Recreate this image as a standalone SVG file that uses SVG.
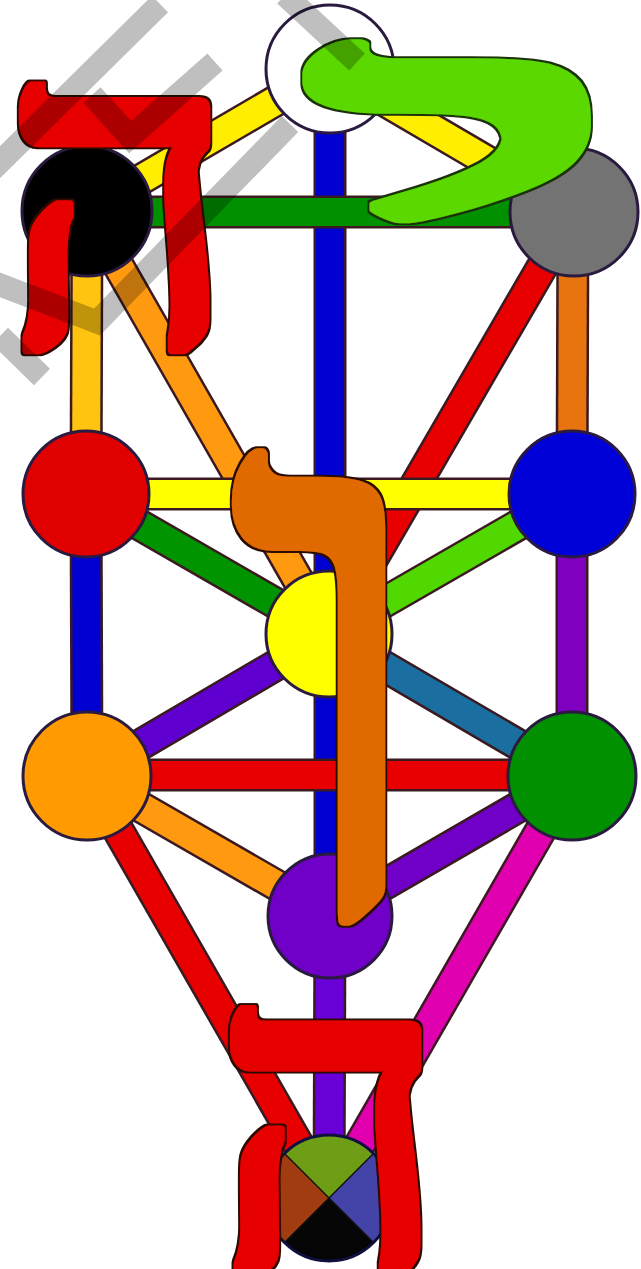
<svg xmlns="http://www.w3.org/2000/svg" xmlns:xlink="http://www.w3.org/1999/xlink" width="641" height="1269" viewBox="0 0 641 1269">
<style>
.out{stroke:#3a1a20;stroke-width:33;stroke-linecap:butt;fill:none}
.bar{stroke-width:28;stroke-linecap:butt;fill:none}
.node{stroke:#2a1a40;stroke-width:3}
.let{font-family:"Liberation Serif","DejaVu Serif",serif;text-anchor:middle}
.wm{fill:none;stroke:#000;stroke-opacity:0.25;stroke-width:23;stroke-linecap:butt;stroke-linejoin:miter}
</style>
<defs>
<filter id="fat6" x="-20%" y="-20%" width="140%" height="140%"><feMorphology in="SourceAlpha" operator="dilate" radius="8" result="o"/><feFlood flood-color="#2a0800"/><feComposite in2="o" operator="in" result="outl"/><feMorphology in="SourceGraphic" operator="dilate" radius="6" result="f"/><feMerge><feMergeNode in="outl"/><feMergeNode in="f"/></feMerge></filter>
<filter id="fat3" x="-20%" y="-20%" width="140%" height="140%"><feMorphology in="SourceAlpha" operator="dilate" radius="4.5" result="o"/><feFlood flood-color="#1a3008"/><feComposite in2="o" operator="in" result="outl"/><feMorphology in="SourceGraphic" operator="dilate" radius="3" result="f"/><feMerge><feMergeNode in="outl"/><feMergeNode in="f"/></feMerge></filter>
<filter id="fat2" x="-20%" y="-20%" width="140%" height="140%"><feMorphology in="SourceAlpha" operator="dilate" radius="3.5" result="o"/><feFlood flood-color="#2a0e00"/><feComposite in2="o" operator="in" result="outl"/><feMorphology in="SourceGraphic" operator="dilate" radius="2" result="f"/><feMerge><feMergeNode in="outl"/><feMergeNode in="f"/></feMerge></filter>
<line id="c-k-ch" x1="330" y1="69" x2="574" y2="212"/>
<line id="c-k-b" x1="330" y1="69" x2="87" y2="211"/>
<line id="c-k-t" x1="330" y1="69" x2="330" y2="634"/>
<line id="c-b-ge" x1="87" y1="211" x2="86" y2="494"/>
<line id="c-ch-cs" x1="573" y1="212" x2="572" y2="494"/>
<line id="c-ge-h" x1="86" y1="494" x2="87" y2="776"/>
<line id="c-cs-n" x1="572" y1="494" x2="572" y2="776"/>
<line id="c-t-y" x1="330" y1="634" x2="330" y2="916"/>
<line id="c-y-m" x1="330" y1="916" x2="329" y2="1198"/>
<line id="c-b-t" x1="87" y1="211" x2="329" y2="634"/>
<line id="c-ch-t" x1="574" y1="212" x2="329" y2="634"/>
<line id="c-ge-t" x1="86" y1="494" x2="329" y2="634"/>
<line id="c-cs-t" x1="572" y1="494" x2="329" y2="634"/>
<line id="c-h-t" x1="87" y1="776" x2="329" y2="634"/>
<line id="c-n-t" x1="572" y1="776" x2="329" y2="634"/>
<line id="c-h-y" x1="87" y1="776" x2="330" y2="916"/>
<line id="c-n-y" x1="572" y1="776" x2="330" y2="916"/>
<line id="c-h-m" x1="87" y1="776" x2="329" y2="1198"/>
<line id="c-n-m" x1="572" y1="776" x2="329" y2="1198"/>
<line id="c-b-ch" x1="87" y1="212" x2="574" y2="212"/>
<line id="c-ge-cs" x1="86" y1="494" x2="572" y2="494"/>
<line id="c-h-n" x1="87" y1="775" x2="572" y2="775"/>
</defs>
<rect width="641" height="1269" fill="#ffffff"/>
<g id="connectors">
<use xlink:href="#c-k-t" class="out"/><use xlink:href="#c-k-t" class="bar" stroke="#0000d0"/>
<use xlink:href="#c-t-y" class="out"/><use xlink:href="#c-t-y" class="bar" stroke="#0000d0"/>
<use xlink:href="#c-y-m" class="out"/><use xlink:href="#c-y-m" class="bar" stroke="#6a00d8"/>
<use xlink:href="#c-b-ge" class="out"/><use xlink:href="#c-b-ge" class="bar" stroke="#ffc410"/>
<use xlink:href="#c-ch-cs" class="out"/><use xlink:href="#c-ch-cs" class="bar" stroke="#e87410"/>
<use xlink:href="#c-ge-h" class="out"/><use xlink:href="#c-ge-h" class="bar" stroke="#0000d0"/>
<use xlink:href="#c-cs-n" class="out"/><use xlink:href="#c-cs-n" class="bar" stroke="#8000c0"/>
<use xlink:href="#c-k-ch" class="out"/><use xlink:href="#c-k-ch" class="bar" stroke="#ffee00"/>
<use xlink:href="#c-k-b" class="out"/><use xlink:href="#c-k-b" class="bar" stroke="#ffee00"/>
<use xlink:href="#c-b-t" class="out"/><use xlink:href="#c-b-t" class="bar" stroke="#ff9a10"/>
<use xlink:href="#c-ch-t" class="out"/><use xlink:href="#c-ch-t" class="bar" stroke="#e80000"/>
<use xlink:href="#c-ge-t" class="out"/><use xlink:href="#c-ge-t" class="bar" stroke="#009400"/>
<use xlink:href="#c-cs-t" class="out"/><use xlink:href="#c-cs-t" class="bar" stroke="#50d800"/>
<use xlink:href="#c-h-t" class="out"/><use xlink:href="#c-h-t" class="bar" stroke="#6000d0"/>
<use xlink:href="#c-n-t" class="out"/><use xlink:href="#c-n-t" class="bar" stroke="#1a6ea0"/>
<use xlink:href="#c-h-y" class="out"/><use xlink:href="#c-h-y" class="bar" stroke="#ff9a10"/>
<use xlink:href="#c-n-y" class="out"/><use xlink:href="#c-n-y" class="bar" stroke="#7000c8"/>
<use xlink:href="#c-h-m" class="out"/><use xlink:href="#c-h-m" class="bar" stroke="#e80000"/>
<use xlink:href="#c-n-m" class="out"/><use xlink:href="#c-n-m" class="bar" stroke="#e000b0"/>
<use xlink:href="#c-b-ch" class="out"/><use xlink:href="#c-b-ch" class="bar" stroke="#009000"/>
<use xlink:href="#c-ge-cs" class="out"/><use xlink:href="#c-ge-cs" class="bar" stroke="#ffff00"/>
<use xlink:href="#c-h-n" class="out"/><use xlink:href="#c-h-n" class="bar" stroke="#e80000"/>
</g>
<g id="keter"><circle class="node" cx="330" cy="69" r="64" fill="#ffffff" stroke="#101050"/></g>
<g id="chokmah"><circle class="node" cx="574" cy="212" r="64" fill="#737373" stroke="#101840"/></g>
<g id="binah"><circle class="node" cx="87" cy="211" r="65" fill="#000000" stroke="#1a1070"/></g>
<g id="chesed"><circle class="node" cx="572" cy="494" r="63" fill="#0000d8" stroke="#603040"/></g>
<g id="geburah"><circle class="node" cx="86" cy="494" r="63" fill="#e00000" stroke="#4a4010"/></g>
<g id="tiphareth"><circle class="node" cx="329" cy="634" r="63" fill="#ffff00" stroke="#3a2010"/></g>
<g id="netzach"><circle class="node" cx="572" cy="776" r="64" fill="#009000" stroke="#7a2a10"/></g>
<g id="hod"><circle class="node" cx="87" cy="776" r="64" fill="#ff9a00" stroke="#2a1060"/></g>
<g id="yesod"><circle class="node" cx="330" cy="916" r="62" fill="#7000c8" stroke="#ffe090"/></g>
<g id="malkuth">
<path d="M329,1198 L284,1153 A63,63 0 0 1 374,1153 Z" fill="#6e9e16"/>
<path d="M329,1198 L374,1153 A63,63 0 0 1 374,1243 Z" fill="#4444a8"/>
<path d="M329,1198 L374,1243 A63,63 0 0 1 284,1243 Z" fill="#050505"/>
<path d="M329,1198 L284,1243 A63,63 0 0 1 284,1153 Z" fill="#a03c10"/>
<line x1="284" y1="1153" x2="374" y2="1243" stroke="#101010" stroke-width="1.5"/>
<line x1="374" y1="1153" x2="284" y2="1243" stroke="#101010" stroke-width="1.5"/>
<circle cx="329" cy="1198" r="63" fill="none" stroke="#101040" stroke-width="3"/>
</g>
<g id="letter-he-top" filter="url(#fat6)"><text class="let" transform="translate(119,343) scale(1.98,2.17)" font-size="200" fill="#e60000">ה</text></g>
<g id="letter-yod" filter="url(#fat3)"><text class="let" transform="translate(471,371) scale(7.8,2.8)" font-size="200" fill="#5ad800">י</text></g>
<g id="letter-vav" filter="url(#fat2)"><text class="let" transform="translate(338,919) scale(4.5,3.98)" font-size="200" fill="#e06a00">ו</text></g>
<g id="letter-he-bottom" filter="url(#fat6)"><text class="let" transform="translate(330,1270) scale(1.98,2.2)" font-size="200" fill="#e60000">ה</text></g>
<g id="watermark">
<polyline class="wm" points="160,4 -10,172"/>
<polyline class="wm" points="92,95 130,137 215,62"/>
<polyline class="wm" points="-5,283 97,322 290,124"/>
<polyline class="wm" points="0,336 42,377"/>
<polyline class="wm" points="285,-5 357,62"/>
</g>
</svg>
